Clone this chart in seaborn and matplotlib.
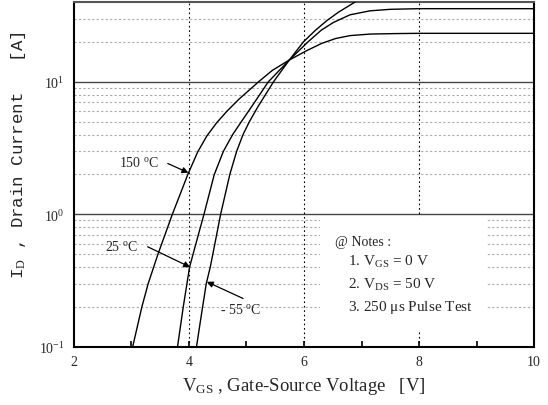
import matplotlib
matplotlib.use('Agg')
import matplotlib.pyplot as plt
import seaborn as sns
import pandas as pd

# Curvas de transferencia
vgs_150 = [3.02, 3.18, 3.29, 3.46, 3.71, 3.98, 4.15, 4.31, 4.48, 4.66, 4.87, 5.21, 5.45, 5.745,
           6.05, 6.31, 6.55, 6.80, 7.15, 7.60, 8.00, 10.0]
id_150 = [0.1, 0.2, 0.3, 0.5, 1.0, 2.0, 2.95, 3.9, 4.9, 6.0, 7.4, 10.0, 12.2, 14.6,
          17.2, 19.5, 21.2, 22.3, 22.9, 23.1, 23.2, 23.2]

vgs_25 = [3.80, 3.90, 4.01, 4.12, 4.26, 4.44, 4.60, 4.76, 4.91, 5.09, 5.38, 5.745, 6.07,
          6.30, 6.51, 6.80, 7.15, 7.50, 8.00, 10.0]
id_25 = [0.1, 0.2, 0.4, 0.6, 1.0, 2.0, 3.0, 4.0, 5.0, 6.5, 10.0, 14.6, 20.0,
         24.5, 28.0, 32.0, 34.3, 35.2, 35.6, 35.6]

vgs_m55 = [4.13, 4.22, 4.30, 4.37, 4.45, 4.55, 4.71, 4.83, 4.94, 5.05, 5.20, 5.47, 5.745,
           5.99, 6.20, 6.40, 6.60, 6.89, 7.05]
id_m55 = [0.1, 0.18, 0.3, 0.4, 0.6, 1.0, 2.0, 3.0, 4.0, 5.0, 6.5, 10.0, 14.6,
          20.0, 24.5, 29.0, 33.5, 40.0, 44.0]

x_ticks = [2, 4, 6, 8, 10]
notes = ['@ Notes :', '1. V$_{GS}$ = 0 V', '2. V$_{DS}$ = 50 V', '3. 250 $\\mu$s Pulse Test']

sns.set_style('white')
plt.rcParams['font.family'] = ['Liberation Serif', 'DejaVu Serif']
plt.rcParams['mathtext.fontset'] = 'custom'
plt.rcParams['mathtext.rm'] = 'Liberation Serif'
plt.rcParams['mathtext.it'] = 'Liberation Serif'

fig = plt.figure(figsize=(5.48, 4.06), dpi=100)
ax = fig.add_axes([0.135, 0.143, 0.8395, 0.8497])

for v, i in [(vgs_150, id_150), (vgs_25, id_25), (vgs_m55, id_m55)]:
    df = pd.DataFrame({'Vgs': v, 'Id': i})
    sns.lineplot(data=df, x='Vgs', y='Id', sort=False, estimator=None,
                 color='black', lw=1.0, ax=ax, zorder=4)

ax.set_yscale('log')
ax.set_xlim(2, 10)
ax.set_ylim(0.1, 40)

# grade
for d in [1, 10]:
    ax.axhline(d, color='#444444', lw=1.0, zorder=1)
minors = [m * 10.0 ** e for e in (-1, 0, 1) for m in range(2, 10)]
for m in minors:
    if m < 40:
        ax.axhline(m, color='#aaaaaa', lw=0.8, ls=(0, (2, 2)), zorder=1)
for xv in [4, 6, 8]:
    ax.axvline(xv, color='black', lw=0.8, ls=(0, (1.5, 2.5)), zorder=1)

ax.set_xticks(x_ticks)
ax.set_xticks([3, 5, 7, 9], minor=True)
ax.yaxis.set_minor_formatter(matplotlib.ticker.NullFormatter())
ax.tick_params(axis='x', which='both', direction='in', length=4, width=1.2, color='black',
               bottom=True, labelsize=10, pad=6)
ax.tick_params(axis='y', which='both', left=False, labelsize=10)

for s in ['left', 'bottom', 'right']:
    ax.spines[s].set_color('black')
    ax.spines[s].set_linewidth(1.5)
ax.spines['top'].set_color('#555555')
ax.spines['top'].set_linewidth(1.5)

ax.set_xlabel('V$_{GS}$ , Gate-Source Voltage   [V]', fontsize=13.5, labelpad=5)
ax.set_ylabel('I$_D$ , Drain Current   [A]', fontsize=12.5, family=['Liberation Mono'])
ax.yaxis.set_label_coords(-0.10, 0.56)

# rótulos de temperatura
arrow = dict(arrowstyle='-|>', color='black', lw=0.9, mutation_scale=9, shrinkA=0, shrinkB=0)
ax.text(3.14, 2.49, '150 $^o$C', fontsize=10, va='center', ha='center')
ax.annotate('', xy=(3.99, 2.06), xytext=(3.63, 2.42), arrowprops=arrow)
ax.text(2.835, 0.574, '25 $^o$C', fontsize=10, va='center', ha='center')
ax.annotate('', xy=(4.02, 0.40), xytext=(3.28, 0.57), arrowprops=arrow)
ax.annotate('', xy=(4.31, 0.31), xytext=(4.94, 0.232), arrowprops=arrow)
ax.text(4.89, 0.192, '- 55 $^o$C', fontsize=10, va='center', ha='center')

# notas
ax.add_patch(plt.Rectangle((6.28, 0.131), 2.9, 0.82, facecolor='white', edgecolor='none', zorder=2))
ax.text(6.54, 0.62, notes[0], fontsize=10, va='center', zorder=3)
ax.text(6.77, 0.449, notes[1], fontsize=11, va='center', zorder=3)
ax.text(6.77, 0.301, notes[2], fontsize=11, va='center', zorder=3)
ax.text(6.77, 0.202, notes[3], fontsize=11, va='center', zorder=3)

plt.savefig('out.png', dpi=100)
